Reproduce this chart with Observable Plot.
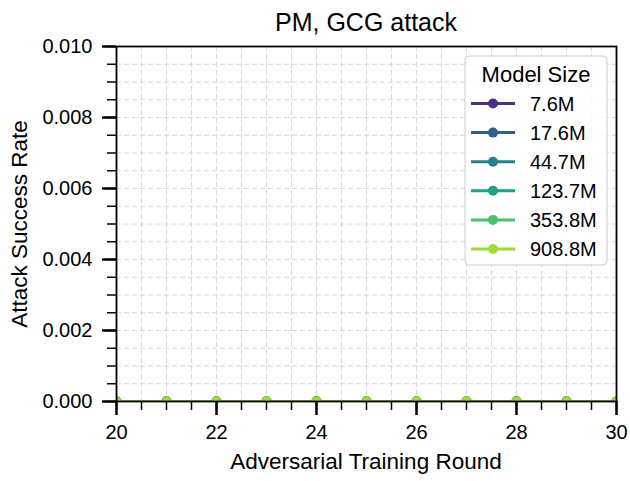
<!DOCTYPE html>
<html>
<head>
<meta charset="utf-8">
<script src="https://cdn.jsdelivr.net/npm/d3@7"></script>
<script src="https://cdn.jsdelivr.net/npm/@observablehq/plot@0.6"></script>
<style>
  html, body { margin: 0; padding: 0; background: #fff; }
</style>
</head>
<body>
<div id="chart"></div>
<script>
// ---- Data ----
const rounds = [20, 21, 22, 23, 24, 25, 26, 27, 28, 29, 30];
const modelSizes = ["7.6M", "17.6M", "44.7M", "123.7M", "353.8M", "908.8M"];
const asr_7_6M   = [0, 0, 0, 0, 0, 0, 0, 0, 0, 0, 0];
const asr_17_6M  = [0, 0, 0, 0, 0, 0, 0, 0, 0, 0, 0];
const asr_44_7M  = [0, 0, 0, 0, 0, 0, 0, 0, 0, 0, 0];
const asr_123_7M = [0, 0, 0, 0, 0, 0, 0, 0, 0, 0, 0];
const asr_353_8M = [0, 0, 0, 0, 0, 0, 0, 0, 0, 0, 0];
const asr_908_8M = [0, 0, 0, 0, 0, 0, 0, 0, 0, 0, 0];
const xMajorTicks = [20, 22, 24, 26, 28, 30];
const xTickLabels = ["20", "22", "24", "26", "28", "30"];
const yMajorTicks = [0, 0.002, 0.004, 0.006, 0.008, 0.010];
const yTickLabels = ["0.000", "0.002", "0.004", "0.006", "0.008", "0.010"];
const titleText = "PM, GCG attack";
const xLabel = "Adversarial Training Round";
const yLabel = "Attack Success Rate";
const legendTitle = "Model Size";

// ---- Build table ----
const seriesValues = [asr_7_6M, asr_17_6M, asr_44_7M, asr_123_7M, asr_353_8M, asr_908_8M];
const data = modelSizes.flatMap((s, i) =>
  seriesValues[i].map((v, j) => ({round: rounds[j], asr: v, size: s})));
const palette = modelSizes.map((_, i) => d3.interpolateViridis((i + 1) / (modelSizes.length + 1)));
const xMinor = d3.range(20, 30.0001, 0.5);
const yMinor = d3.range(0, 0.01001, 0.0005).map(v => +v.toFixed(4));

const font = "'Liberation Sans', Arial, sans-serif";
const gridStyle = {stroke: "#d6d6d6", strokeOpacity: 1, strokeWidth: 1, strokeDasharray: "5,3"};

const chart = Plot.plot({
  width: 630,
  height: 481,
  marginLeft: 116,
  marginRight: 14,
  marginTop: 46,
  marginBottom: 80,
  style: {fontFamily: font, fontSize: "20px", color: "#000", background: "#fff", overflow: "visible"},
  x: {domain: [20, 30], label: null},
  y: {domain: [0, 0.01], label: null},
  color: {domain: modelSizes, range: palette},
  marks: [
    Plot.gridX(xMinor, gridStyle),
    Plot.gridY(yMinor, gridStyle),
    Plot.line(data, {x: "round", y: "asr", z: "size", stroke: "size", strokeWidth: 2.5, clip: true}),
    Plot.dot(data, {x: "round", y: "asr", fill: "size", r: 5, clip: true}),
    Plot.frame({stroke: "#000", strokeWidth: 1.8}),
    Plot.axisX(xMinor, {tickSize: 9, strokeWidth: 1.5, tickFormat: () => "", label: null}),
    Plot.axisX(xMajorTicks, {tickSize: 14, strokeWidth: 2.5, tickPadding: 9, fontSize: 20,
      tickFormat: d => xTickLabels[xMajorTicks.indexOf(d)], label: null}),
    Plot.axisY(yMinor, {tickSize: 9, strokeWidth: 1.5, tickFormat: () => "", label: null}),
    Plot.axisY(yMajorTicks, {tickSize: 14, strokeWidth: 2.5, tickPadding: 10, fontSize: 20,
      tickFormat: d => yTickLabels[yMajorTicks.indexOf(d)], label: null})
  ]
});

document.getElementById("chart").appendChild(chart);

// ---- Titles and labels ----
const svg = d3.select(chart);
svg.append("text").attr("x", 366).attr("y", 31).attr("text-anchor", "middle")
  .attr("font-family", font).attr("font-size", 25).attr("fill", "#000").text(titleText);
svg.append("text").attr("x", 366).attr("y", 469).attr("text-anchor", "middle")
  .attr("font-family", font).attr("font-size", 22.5).attr("fill", "#000").text(xLabel);
svg.append("text").attr("transform", "translate(27,224) rotate(-90)").attr("text-anchor", "middle")
  .attr("font-family", font).attr("font-size", 22.5).attr("fill", "#000").text(yLabel);

// ---- Legend ----
const lg = svg.append("g");
lg.append("rect").attr("x", 465).attr("y", 56).attr("width", 142).attr("height", 209)
  .attr("rx", 4).attr("fill", "#fff").attr("fill-opacity", 0.85).attr("stroke", "#cccccc").attr("stroke-width", 1);
lg.append("text").attr("x", 536).attr("y", 82).attr("text-anchor", "middle")
  .attr("font-family", font).attr("font-size", 22).attr("fill", "#000").text(legendTitle);
modelSizes.forEach((s, i) => {
  const cy = 103.5 + i * 29.1;
  lg.append("line").attr("x1", 471).attr("x2", 515).attr("y1", cy).attr("y2", cy)
    .attr("stroke", palette[i]).attr("stroke-width", 3);
  lg.append("circle").attr("cx", 493).attr("cy", cy).attr("r", 5).attr("fill", palette[i]);
  lg.append("text").attr("x", 530).attr("y", cy + 7).attr("text-anchor", "start")
    .attr("font-family", font).attr("font-size", 20).attr("fill", "#000").text(s);
});
</script>
</body>
</html>
